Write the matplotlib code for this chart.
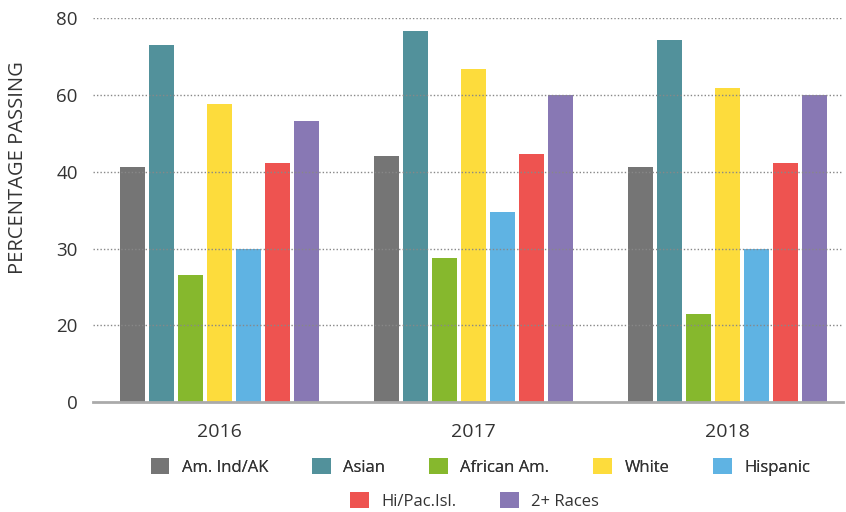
import numpy as np
import matplotlib
matplotlib.use("Agg")
import matplotlib.pyplot as plt
from matplotlib.patches import Patch

years = ["2016", "2017", "2018"]
groups = ["Am. Ind/AK", "Asian", "African Am.", "White", "Hispanic", "Hi/Pac.Isl.", "2+ Races"]
am_ind = [41.3, 44.1, 41.3]
asian = [73.1, 76.7, 74.4]
african = [26.6, 28.8, 21.5]
white = [57.7, 66.7, 61.8]
hispanic = [30.0, 34.7, 30.0]
hipac = [42.3, 44.6, 42.3]
two_plus = [53.1, 60.0, 60.0]
series = [am_ind, asian, african, white, hispanic, hipac, two_plus]
colors = ["#757575", "#52919B", "#86B82D", "#FDDC3C", "#5FB3E3", "#EE5350", "#8878B4"]
ytick_vals = [0, 20, 30, 40, 60, 80]

plt.rcParams['font.family'] = ['Open Sans', 'DejaVu Sans']

fig = plt.figure(figsize=(8.46, 5.12), dpi=100)
ax = fig.add_axes([0.110, 0.2143, 0.8865, 0.7505])

idx = np.arange(len(ytick_vals))
fwd = lambda v: np.interp(v, ytick_vals, idx)
inv = lambda p: np.interp(p, idx, ytick_vals)
ax.set_yscale('function', functions=(fwd, inv))

x = np.arange(len(years))
stride = 0.114
width = 0.0984
for i, (vals, c) in enumerate(zip(series, colors)):
    ax.bar(x + (i - 3) * stride, vals, width=width, color=c, zorder=1)

ax.set_ylim(0, 80.3)
ax.set_xlim(-0.496, 2.455)
ax.set_yticks(ytick_vals)
ax.set_yticklabels([str(v) for v in ytick_vals])
ax.set_xticks(x)
ax.set_xticklabels(years)
ax.tick_params(axis='y', length=0, pad=11, labelsize=13.5, labelcolor='#333333')
ax.tick_params(axis='x', length=0, pad=15, labelsize=14, labelcolor='#333333')

ax.grid(axis='y', linestyle=(0, (1, 1.5)), color='#888888', linewidth=1.0, zorder=3)
ax.set_axisbelow(False)
for g in ax.get_ygridlines()[:1]:
    g.set_visible(False)
for s in ['top', 'right', 'left']:
    ax.spines[s].set_visible(False)
ax.spines['bottom'].set_color('#aaaaaa')
ax.spines['bottom'].set_linewidth(2)
ax.spines['bottom'].set_zorder(4)

fig.text(0.021, 0.673, "PERCENTAGE PASSING", rotation=90, ha='center', va='center',
         fontsize=14.5, color='#333333')

handles = [Patch(facecolor=c, edgecolor='none') for c in colors]
leg_kw = dict(frameon=False, fontsize=12, handlelength=1.1, handleheight=1.1,
              handletextpad=0.75, columnspacing=2.65, labelcolor='#333333')
l1 = fig.legend(handles[:5], groups[:5], ncol=5, loc='center',
                bbox_to_anchor=(0.568, 0.088), **leg_kw)
fig.add_artist(l1)
fig.legend(handles[5:], groups[5:], ncol=2, loc='center',
           bbox_to_anchor=(0.561, 0.021), **leg_kw)

fig.savefig("out.png", dpi=100)
